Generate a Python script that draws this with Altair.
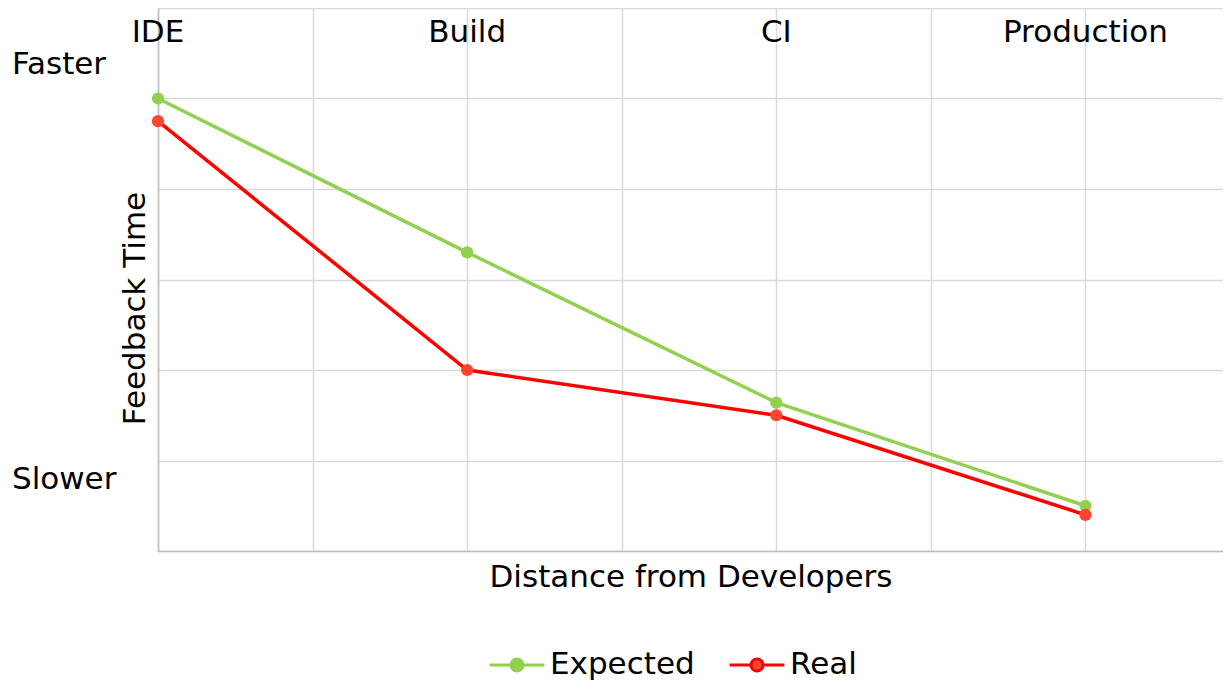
import altair as alt
import pandas as pd

categories = ["IDE", "Build", "CI", "Production"]
expected = [5.0, 3.30, 1.64, 0.50]
real = [4.75, 2.0, 1.50, 0.40]
series_names = ["Expected", "Real"]
speed_labels = ["Faster", "Slower"]
speed_values = [5.37, 0.78]

FONT = "DejaVu Sans"
FS = 31
GREEN = "#92D050"
RED = "#FF0000"
RED_DOT = "#FF4530"

rows = []
for i, c in enumerate(categories):
    rows.append({"cat": c, "pos": i * 2, "series": "Expected", "v": expected[i]})
    rows.append({"cat": c, "pos": i * 2, "series": "Real", "v": real[i]})
df = pd.DataFrame(rows)
cat_df = pd.DataFrame({"cat": categories, "pos": [i * 2 for i in range(len(categories))]})
speed_df = pd.DataFrame({"lab": speed_labels, "v": speed_values})

xscale = alt.Scale(domain=[0, 6.89], nice=False, zero=False)
yscale = alt.Scale(domain=[0, 6], nice=False)

xaxis = alt.Axis(values=[0, 1, 2, 3, 4, 5, 6], labels=False, ticks=False,
                 title="Distance from Developers", titleFont=FONT, titleFontSize=FS,
                 titleFontWeight="normal", titleColor="black", titlePadding=11,
                 grid=True, gridColor="#D9D9D9", gridWidth=1.5,
                 domainColor="#BFBFBF", domainWidth=1.5)
yaxis = alt.Axis(values=[0, 1, 2, 3, 4, 5, 6], labels=False, ticks=False,
                 title="Feedback Time", titleFont=FONT, titleFontSize=FS,
                 titleFontWeight="normal", titleColor="black",
                 titleAngle=270, titleX=-23, titleY=300, titleAlign="center",
                 titleBaseline="middle",
                 grid=True, gridColor="#D9D9D9", gridWidth=1.5,
                 domainColor="#BFBFBF", domainWidth=1.5)

color = alt.Color("series:N", scale=alt.Scale(domain=series_names, range=[GREEN, RED]),
                  legend=alt.Legend(title=None, orient="none", direction="horizontal",
                                    legendX=330, legendY=628,
                                    symbolType="M-1,0H-0.22M0.22,0H1M0.22,0A0.22,0.22,0,1,1,-0.22,0A0.22,0.22,0,1,1,0.22,0Z",
                                    symbolSize=3000, symbolStrokeWidth=3,
                                    labelFont=FONT, labelFontSize=FS, labelColor="black",
                                    labelOffset=4, columnPadding=28))

base = alt.Chart(df)
lines = base.mark_line(strokeWidth=3.5).encode(
    x=alt.X("pos:Q", scale=xscale, axis=xaxis),
    y=alt.Y("v:Q", scale=yscale, axis=yaxis),
    color=color,
)
points = base.mark_circle(size=150, opacity=1).encode(
    x=alt.X("pos:Q", scale=xscale),
    y=alt.Y("v:Q", scale=yscale),
    fill=alt.Fill("series:N", scale=alt.Scale(domain=series_names, range=[GREEN, RED_DOT]), legend=None),
)
cat_text = alt.Chart(cat_df).mark_text(font=FONT, fontSize=FS, baseline="middle", align="center",
                                        color="black").encode(
    x=alt.X("pos:Q", scale=xscale),
    y=alt.value(25),
    text="cat:N",
)
speed_text = alt.Chart(speed_df).mark_text(font=FONT, fontSize=FS, baseline="middle", align="left",
                                           color="black").encode(
    x=alt.value(-146),
    y=alt.Y("v:Q", scale=yscale),
    text="lab:N",
)

chart = alt.layer(lines, points, cat_text, speed_text).properties(
    width=1065, height=543,
    autosize=alt.AutoSizeParams(type="none"),
    padding={"left": 150, "top": 0, "right": 0, "bottom": 131},
).configure_view(stroke=None).configure(background="white")

chart.save("out.html", embed_options={"renderer": "svg", "actions": False})
